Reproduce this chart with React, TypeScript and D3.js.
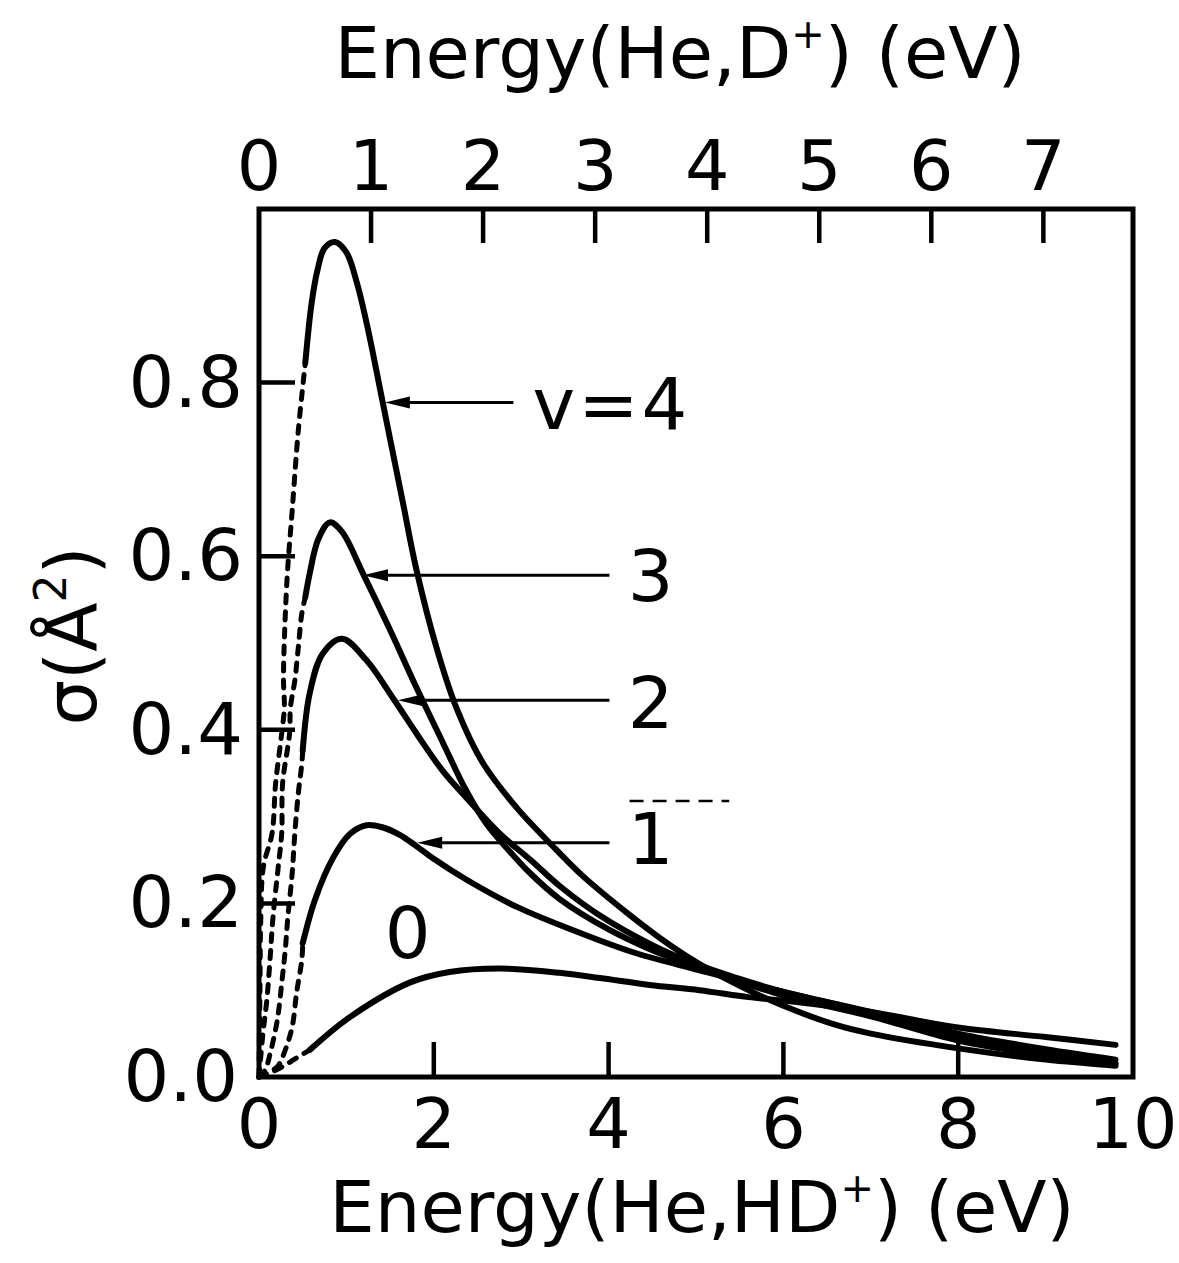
import React, { useEffect, useRef } from 'react'
import * as d3 from 'd3'

// cross section sigma (A^2) vs Energy(He,HD+) (eV), one curve per vibrational level v
const v4Solid: [number, number][] = [
  [0.53, 0.823], [0.6, 0.890], [0.67, 0.930], [0.75, 0.955], [0.87, 0.962], [1.0, 0.950],
  [1.12, 0.915], [1.25, 0.860], [1.4, 0.785], [1.53, 0.720], [1.65, 0.660], [1.8, 0.585],
  [2.03, 0.495], [2.26, 0.425], [2.56, 0.362], [2.95, 0.310], [3.4, 0.262], [3.7, 0.232],
  [4.2, 0.190], [4.7, 0.152], [5.04, 0.130], [5.5, 0.105], [6.0, 0.082], [6.6, 0.060],
  [7.0, 0.050], [8.0, 0.033], [9.0, 0.020], [9.8, 0.013],
]
const v4Dashed: [number, number][] = [
  [0, 0], [0.01, 0.09], [0.02, 0.18], [0.05, 0.242], [0.15, 0.281], [0.19, 0.338],
  [0.26, 0.396], [0.29, 0.426], [0.28, 0.46], [0.32, 0.572], [0.38, 0.653], [0.45, 0.745],
  [0.53, 0.823],
]
const v3Solid: [number, number][] = [
  [0.53, 0.553], [0.58, 0.580], [0.68, 0.620], [0.81, 0.639], [0.95, 0.628], [1.19, 0.580],
  [1.5, 0.515], [1.8, 0.449], [2.1, 0.386], [2.37, 0.330], [2.6, 0.292], [2.85, 0.262],
  [3.1, 0.235], [3.44, 0.205], [4.0, 0.170], [4.5, 0.146], [5.0, 0.127], [5.5, 0.110],
  [6.0, 0.094], [7.0, 0.070], [8.0, 0.042], [9.0, 0.025], [9.8, 0.015],
]
const v3Dashed: [number, number][] = [
  [0, 0], [0.046, 0.051], [0.09, 0.089], [0.126, 0.135], [0.16, 0.184], [0.22, 0.242],
  [0.26, 0.281], [0.27, 0.338], [0.35, 0.396], [0.36, 0.426], [0.41, 0.457], [0.45, 0.495],
  [0.49, 0.534], [0.53, 0.553],
]
const v2Solid: [number, number][] = [
  [0.5, 0.376], [0.58, 0.442], [0.73, 0.488], [0.95, 0.505], [1.23, 0.480], [1.53, 0.437],
  [1.8, 0.396], [2.1, 0.353], [2.37, 0.322], [2.75, 0.281], [3.13, 0.248], [3.44, 0.220],
  [3.9, 0.186], [4.5, 0.152], [5.0, 0.130], [5.5, 0.113], [6.0, 0.098], [7.0, 0.074],
  [8.0, 0.045], [9.0, 0.027], [9.8, 0.016],
]
const v2Dashed: [number, number][] = [
  [0, 0], [0.07, 0.008], [0.13, 0.028], [0.21, 0.066], [0.26, 0.108], [0.30, 0.146],
  [0.33, 0.184], [0.38, 0.235], [0.41, 0.281], [0.45, 0.327], [0.49, 0.361], [0.5, 0.376],
]
const v1Solid: [number, number][] = [
  [0.5, 0.154], [0.64, 0.204], [0.85, 0.253], [1.04, 0.280], [1.23, 0.290], [1.4, 0.288],
  [1.61, 0.279], [1.8, 0.266], [1.99, 0.252], [2.38, 0.227], [2.95, 0.196], [3.52, 0.172],
  [4.27, 0.144], [5.04, 0.123], [6.0, 0.098], [7.0, 0.075], [8.0, 0.050], [9.0, 0.032],
  [9.8, 0.020],
]
const v1Dashed: [number, number][] = [
  [0, 0], [0.21, 0.012], [0.30, 0.031], [0.38, 0.058], [0.43, 0.097], [0.49, 0.135], [0.5, 0.154],
]
const v0Solid: [number, number][] = [
  [0.58, 0.031], [1.04, 0.069], [1.73, 0.109], [2.18, 0.121], [2.75, 0.125], [3.44, 0.120],
  [3.9, 0.114], [4.47, 0.106], [5.04, 0.100], [5.6, 0.092], [6.0, 0.088], [7.0, 0.075],
  [8.0, 0.057], [9.0, 0.046], [9.8, 0.037],
]
const v0Dashed: [number, number][] = [
  [0, 0], [0.05, 0.001], [0.13, 0.005], [0.27, 0.012], [0.43, 0.022], [0.58, 0.031],
]

const solidCurves = [v0Solid, v1Solid, v2Solid, v3Solid, v4Solid]
const dashedCurves = [v0Dashed, v1Dashed, v2Dashed, v3Dashed, v4Dashed]

// curve labels, arrow tips (E, sigma) on the curves, and where each arrow starts (E)
const labelNames = ['v=4', '3', '2', '1', '0']
const arrowTips: ([number, number] | null)[] = [[1.44, 0.777], [1.19, 0.578], [1.59, 0.434], [1.81, 0.270], null]
const arrowTailE = [2.91, 4.01, 4.01, 4.01, 0]
const labelPos: [number, number][] = [[3.13, 0.777], [4.48, 0.578], [4.48, 0.432], [4.48, 0.275], [1.7, 0.167]]

// stray dashed mark in the original figure
const strayMark: [number, number][] = [[4.24, 0.318], [5.38, 0.318]]

const xTicks = [2, 4, 6, 8]
const xLabels = [0, 2, 4, 6, 8, 10]
const yTicks = [0.2, 0.4, 0.6, 0.8]
const yLabels = [0, 0.2, 0.4, 0.6, 0.8]
const topTicks = [1, 2, 3, 4, 5, 6, 7]
const topLabels = [0, 1, 2, 3, 4, 5, 6, 7]
const topMax = 7.8 // Energy(He,D+) at the right edge

const FONT = "'DejaVu Sans', sans-serif"

const App = () => {
  const ref = useRef<SVGSVGElement | null>(null)

  useEffect(() => {
    const svg = d3.select(ref.current)
    svg.selectAll('*').remove()

    const x = d3.scaleLinear().domain([0, 10]).range([259, 1133])
    const y = d3.scaleLinear().domain([0, 1]).range([1077, 209])
    const xTop = d3.scaleLinear().domain([0, topMax]).range([259, 1133])

    const line = d3.line<[number, number]>()
      .x(d => x(d[0]))
      .y(d => y(d[1]))
      .curve(d3.curveCatmullRom.alpha(0.5))

    // frame
    svg.append('rect')
      .attr('x', x(0)).attr('y', y(1))
      .attr('width', x(10) - x(0)).attr('height', y(0) - y(1))
      .attr('fill', 'none').attr('stroke', '#000').attr('stroke-width', 5)

    // inward ticks
    svg.append('g').selectAll('line').data(xTicks).join('line')
      .attr('x1', d => x(d)).attr('x2', d => x(d))
      .attr('y1', y(0)).attr('y2', y(0) - 35)
      .attr('stroke', '#000').attr('stroke-width', 4.5)

    svg.append('g').selectAll('line').data(yTicks).join('line')
      .attr('x1', x(0)).attr('x2', x(0) + 36)
      .attr('y1', d => y(d)).attr('y2', d => y(d))
      .attr('stroke', '#000').attr('stroke-width', 4.5)

    svg.append('g').selectAll('line').data(topTicks).join('line')
      .attr('x1', d => xTop(d)).attr('x2', d => xTop(d))
      .attr('y1', y(1)).attr('y2', y(1) + 34)
      .attr('stroke', '#000').attr('stroke-width', 4.5)

    // tick labels
    svg.append('g').selectAll('text').data(xLabels).join('text')
      .attr('x', d => x(d)).attr('y', 1148)
      .attr('text-anchor', 'middle')
      .attr('font-family', FONT).attr('font-size', 70)
      .text(d => d)

    svg.append('g').selectAll('text').data(yLabels).join('text')
      .attr('x', d => (d === 0 ? 238 : 243)).attr('y', d => y(d) + 24)
      .attr('text-anchor', 'end')
      .attr('font-family', FONT).attr('font-size', 72)
      .text(d => d.toFixed(1))

    svg.append('g').selectAll('text').data(topLabels).join('text')
      .attr('x', d => xTop(d)).attr('y', 190)
      .attr('text-anchor', 'middle')
      .attr('font-family', FONT).attr('font-size', 70)
      .text(d => d)

    // curves
    svg.append('g').selectAll('path').data(dashedCurves).join('path')
      .attr('d', line)
      .attr('fill', 'none').attr('stroke', '#000').attr('stroke-width', 5)
      .attr('stroke-dasharray', '8 9').attr('stroke-linecap', 'round')

    svg.append('g').selectAll('path').data(solidCurves).join('path')
      .attr('d', line)
      .attr('fill', 'none').attr('stroke', '#000').attr('stroke-width', 6)
      .attr('stroke-linecap', 'round').attr('stroke-linejoin', 'round')

    svg.append('path')
      .attr('d', d3.line<[number, number]>().x(d => x(d[0])).y(d => y(d[1]))(strayMark))
      .attr('stroke', '#000').attr('stroke-width', 2.5).attr('stroke-dasharray', '14 9')

    // arrows
    arrowTips.forEach((tip, i) => {
      if (!tip) return
      const tx = x(tip[0])
      const ty = y(tip[1])
      svg.append('line')
        .attr('x1', x(arrowTailE[i])).attr('x2', tx + 10)
        .attr('y1', ty).attr('y2', ty)
        .attr('stroke', '#000').attr('stroke-width', 3)
      svg.append('path')
        .attr('d', `M${tx},${ty}L${tx + 25},${ty - 6}L${tx + 25},${ty + 6}Z`)
        .attr('fill', '#000')
    })

    // curve labels
    svg.append('g').selectAll('text').data(labelNames).join('text')
      .attr('x', (d, i) => x(labelPos[i][0]))
      .attr('y', (d, i) => y(labelPos[i][1]) + 26)
      .attr('text-anchor', (d, i) => (i === 0 ? 'start' : 'middle'))
      .attr('letter-spacing', (d, i) => (i === 0 ? 3 : 0))
      .attr('font-family', FONT).attr('font-size', 72)
      .text(d => d)

    // axis titles
    const top = svg.append('text')
      .attr('x', 680).attr('y', 78)
      .attr('text-anchor', 'middle')
      .attr('font-family', FONT).attr('font-size', 72)
    top.append('tspan').text('Energy(He,D')
    top.append('tspan').attr('dy', -30).attr('font-size', 40).text('+')
    top.append('tspan').attr('dy', 30).text(')  (eV)')

    const bottom = svg.append('text')
      .attr('x', 702).attr('y', 1232)
      .attr('text-anchor', 'middle')
      .attr('font-family', FONT).attr('font-size', 72)
    bottom.append('tspan').text('Energy(He,HD')
    bottom.append('tspan').attr('dy', -30).attr('font-size', 40).text('+')
    bottom.append('tspan').attr('dy', 30).text(')  (eV)')

    const yTitle = svg.append('text')
      .attr('transform', 'translate(96,636) rotate(-90)')
      .attr('text-anchor', 'middle')
      .attr('font-family', FONT).attr('font-size', 72)
    yTitle.append('tspan').text('σ(Å')
    yTitle.append('tspan').attr('dy', -30).attr('font-size', 44).text('2')
    yTitle.append('tspan').attr('dy', 30).text(')')
  }, [])

  return (
    <div style={{ position: 'absolute', left: 0, top: 0, background: '#fff' }}>
      <svg ref={ref} width={1179} height={1263} viewBox='0 0 1179 1263' style={{ display: 'block' }} />
    </div>
  )
}

export default App
